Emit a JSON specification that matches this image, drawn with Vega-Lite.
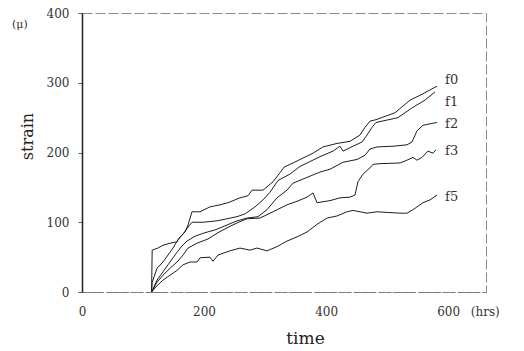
{
  "$schema": "https://vega.github.io/schema/vega-lite/v6.json",
  "autosize": "none",
  "width": 404,
  "height": 279,
  "padding": {"left": 82, "top": 13, "right": 38, "bottom": 59},
  "background": "white",
  "config": {
    "font": "DejaVu Serif",
    "view": {"stroke": "#8a8a8a", "strokeWidth": 1, "strokeDash": [10, 3]},
    "axis": {"grid": false, "labelFont": "DejaVu Serif", "titleFont": "DejaVu Serif", "titleFontWeight": "normal", "labelColor": "#333", "titleColor": "#222"}
  },
  "title": {"text": "(μ)", "anchor": "start", "frame": "group", "orient": "top", "offset": 0, "dx": -70, "dy": 29, "baseline": "middle", "fontSize": 11, "fontWeight": "normal", "font": "DejaVu Serif", "color": "#333"},
  "datasets": {
    "lines": [
      {"series": "f0", "t": 114, "v": 0}, {"series": "f0", "t": 115, "v": 60}, {"series": "f0", "t": 124.5, "v": 63}, {"series": "f0", "t": 132.7, "v": 67}, {"series": "f0", "t": 144.2, "v": 70}, {"series": "f0", "t": 155.7, "v": 72}, {"series": "f0", "t": 160.6, "v": 79}, {"series": "f0", "t": 168.8, "v": 86}, {"series": "f0", "t": 173.7, "v": 96}, {"series": "f0", "t": 180.2, "v": 115}, {"series": "f0", "t": 193.3, "v": 115}, {"series": "f0", "t": 209.7, "v": 122}, {"series": "f0", "t": 226.1, "v": 125}, {"series": "f0", "t": 239.2, "v": 128}, {"series": "f0", "t": 258.9, "v": 135}, {"series": "f0", "t": 272.0, "v": 138}, {"series": "f0", "t": 278.6, "v": 146}, {"series": "f0", "t": 296.6, "v": 146}, {"series": "f0", "t": 313.0, "v": 158}, {"series": "f0", "t": 324.4, "v": 171}, {"series": "f0", "t": 331.0, "v": 179}, {"series": "f0", "t": 345.7, "v": 185}, {"series": "f0", "t": 362.1, "v": 192}, {"series": "f0", "t": 378.5, "v": 199}, {"series": "f0", "t": 394.9, "v": 208}, {"series": "f0", "t": 417.8, "v": 213}, {"series": "f0", "t": 439.1, "v": 216}, {"series": "f0", "t": 455.5, "v": 225}, {"series": "f0", "t": 463.7, "v": 236}, {"series": "f0", "t": 471.9, "v": 245}, {"series": "f0", "t": 481.7, "v": 247}, {"series": "f0", "t": 512.9, "v": 257}, {"series": "f0", "t": 537.4, "v": 275}, {"series": "f0", "t": 553.8, "v": 282}, {"series": "f0", "t": 581.7, "v": 295},
      {"series": "f1", "t": 114, "v": 0}, {"series": "f1", "t": 115, "v": 14}, {"series": "f1", "t": 122.9, "v": 34}, {"series": "f1", "t": 132.7, "v": 43}, {"series": "f1", "t": 140.9, "v": 53}, {"series": "f1", "t": 149.1, "v": 63}, {"series": "f1", "t": 157.3, "v": 75}, {"series": "f1", "t": 165.5, "v": 83}, {"series": "f1", "t": 173.7, "v": 93}, {"series": "f1", "t": 180.2, "v": 100}, {"series": "f1", "t": 198.3, "v": 100}, {"series": "f1", "t": 221.2, "v": 102}, {"series": "f1", "t": 237.6, "v": 105}, {"series": "f1", "t": 254.0, "v": 108}, {"series": "f1", "t": 267.1, "v": 112}, {"series": "f1", "t": 283.5, "v": 122}, {"series": "f1", "t": 296.6, "v": 132}, {"series": "f1", "t": 308.0, "v": 143}, {"series": "f1", "t": 321.2, "v": 160}, {"series": "f1", "t": 340.8, "v": 169}, {"series": "f1", "t": 357.2, "v": 180}, {"series": "f1", "t": 373.6, "v": 187}, {"series": "f1", "t": 390.0, "v": 194}, {"series": "f1", "t": 411.3, "v": 202}, {"series": "f1", "t": 422.7, "v": 209}, {"series": "f1", "t": 427.7, "v": 202}, {"series": "f1", "t": 444.0, "v": 209}, {"series": "f1", "t": 458.8, "v": 215}, {"series": "f1", "t": 467.0, "v": 225}, {"series": "f1", "t": 475.2, "v": 236}, {"series": "f1", "t": 481.7, "v": 243}, {"series": "f1", "t": 517.8, "v": 250}, {"series": "f1", "t": 540.7, "v": 264}, {"series": "f1", "t": 562.0, "v": 275}, {"series": "f1", "t": 578.4, "v": 287},
      {"series": "f2", "t": 114, "v": 0}, {"series": "f2", "t": 122.9, "v": 17}, {"series": "f2", "t": 132.7, "v": 29}, {"series": "f2", "t": 140.9, "v": 39}, {"series": "f2", "t": 149.1, "v": 49}, {"series": "f2", "t": 155.7, "v": 57}, {"series": "f2", "t": 163.9, "v": 66}, {"series": "f2", "t": 172.0, "v": 73}, {"series": "f2", "t": 185.2, "v": 80}, {"series": "f2", "t": 201.5, "v": 85}, {"series": "f2", "t": 217.9, "v": 89}, {"series": "f2", "t": 237.6, "v": 96}, {"series": "f2", "t": 254.0, "v": 102}, {"series": "f2", "t": 270.4, "v": 106}, {"series": "f2", "t": 288.4, "v": 108}, {"series": "f2", "t": 303.1, "v": 118}, {"series": "f2", "t": 319.5, "v": 135}, {"series": "f2", "t": 335.9, "v": 146}, {"series": "f2", "t": 345.7, "v": 156}, {"series": "f2", "t": 362.1, "v": 162}, {"series": "f2", "t": 373.6, "v": 166}, {"series": "f2", "t": 390.0, "v": 172}, {"series": "f2", "t": 406.4, "v": 176}, {"series": "f2", "t": 427.7, "v": 186}, {"series": "f2", "t": 450.6, "v": 190}, {"series": "f2", "t": 463.7, "v": 196}, {"series": "f2", "t": 471.9, "v": 205}, {"series": "f2", "t": 483.4, "v": 208}, {"series": "f2", "t": 509.6, "v": 209}, {"series": "f2", "t": 532.5, "v": 211}, {"series": "f2", "t": 540.7, "v": 215}, {"series": "f2", "t": 548.9, "v": 231}, {"series": "f2", "t": 558.7, "v": 239}, {"series": "f2", "t": 575.1, "v": 242}, {"series": "f2", "t": 581.7, "v": 243},
      {"series": "f3", "t": 114, "v": 0}, {"series": "f3", "t": 122.9, "v": 14}, {"series": "f3", "t": 132.7, "v": 24}, {"series": "f3", "t": 144.2, "v": 34}, {"series": "f3", "t": 155.7, "v": 43}, {"series": "f3", "t": 165.5, "v": 53}, {"series": "f3", "t": 173.7, "v": 63}, {"series": "f3", "t": 188.4, "v": 70}, {"series": "f3", "t": 206.5, "v": 76}, {"series": "f3", "t": 222.8, "v": 85}, {"series": "f3", "t": 237.6, "v": 92}, {"series": "f3", "t": 254.0, "v": 99}, {"series": "f3", "t": 270.4, "v": 105}, {"series": "f3", "t": 291.7, "v": 106}, {"series": "f3", "t": 313.0, "v": 115}, {"series": "f3", "t": 335.9, "v": 125}, {"series": "f3", "t": 352.3, "v": 130}, {"series": "f3", "t": 368.7, "v": 136}, {"series": "f3", "t": 378.5, "v": 142}, {"series": "f3", "t": 385.1, "v": 128}, {"series": "f3", "t": 406.4, "v": 131}, {"series": "f3", "t": 422.7, "v": 135}, {"series": "f3", "t": 439.1, "v": 136}, {"series": "f3", "t": 447.3, "v": 139}, {"series": "f3", "t": 452.2, "v": 158}, {"series": "f3", "t": 460.4, "v": 169}, {"series": "f3", "t": 471.9, "v": 178}, {"series": "f3", "t": 476.8, "v": 183}, {"series": "f3", "t": 488.3, "v": 184}, {"series": "f3", "t": 521.1, "v": 185}, {"series": "f3", "t": 532.5, "v": 189}, {"series": "f3", "t": 542.4, "v": 193}, {"series": "f3", "t": 548.9, "v": 189}, {"series": "f3", "t": 557.1, "v": 193}, {"series": "f3", "t": 566.9, "v": 202}, {"series": "f3", "t": 575.1, "v": 199}, {"series": "f3", "t": 580.0, "v": 204},
      {"series": "f5", "t": 114, "v": 0}, {"series": "f5", "t": 122.9, "v": 9}, {"series": "f5", "t": 132.7, "v": 17}, {"series": "f5", "t": 144.2, "v": 24}, {"series": "f5", "t": 155.7, "v": 31}, {"series": "f5", "t": 165.5, "v": 39}, {"series": "f5", "t": 177.0, "v": 43}, {"series": "f5", "t": 188.4, "v": 43}, {"series": "f5", "t": 193.3, "v": 49}, {"series": "f5", "t": 209.7, "v": 50}, {"series": "f5", "t": 214.6, "v": 44}, {"series": "f5", "t": 222.8, "v": 53}, {"series": "f5", "t": 242.5, "v": 59}, {"series": "f5", "t": 258.9, "v": 63}, {"series": "f5", "t": 275.3, "v": 60}, {"series": "f5", "t": 286.7, "v": 63}, {"series": "f5", "t": 303.1, "v": 59}, {"series": "f5", "t": 319.5, "v": 65}, {"series": "f5", "t": 335.9, "v": 73}, {"series": "f5", "t": 352.3, "v": 79}, {"series": "f5", "t": 368.7, "v": 86}, {"series": "f5", "t": 385.1, "v": 97}, {"series": "f5", "t": 401.4, "v": 106}, {"series": "f5", "t": 417.8, "v": 109}, {"series": "f5", "t": 434.2, "v": 115}, {"series": "f5", "t": 444.0, "v": 117}, {"series": "f5", "t": 467.0, "v": 113}, {"series": "f5", "t": 483.4, "v": 115}, {"series": "f5", "t": 521.1, "v": 113}, {"series": "f5", "t": 532.5, "v": 113}, {"series": "f5", "t": 542.4, "v": 118}, {"series": "f5", "t": 558.7, "v": 128}, {"series": "f5", "t": 570.2, "v": 132}, {"series": "f5", "t": 581.7, "v": 139}
    ],
    "labels": [
      {"series": "f0", "t": 595, "v": 304},
      {"series": "f1", "t": 595, "v": 272},
      {"series": "f2", "t": 595, "v": 241},
      {"series": "f3", "t": 595, "v": 202},
      {"series": "f5", "t": 595, "v": 136}
    ]
  },
  "layer": [
    {
      "data": {"name": "lines"},
      "mark": {"type": "line", "color": "#1e1e1e", "strokeWidth": 1, "interpolate": "linear"},
      "encoding": {
        "x": {"field": "t", "type": "quantitative", "scale": {"domain": [0, 662], "nice": false, "zero": false},
          "axis": {"values": [0, 200, 400, 600, 660], "labelExpr": "datum.value == 660 ? '(hrs)' : datum.label", "labelFlush": false, "labelOverlap": false, "ticks": false, "labelPadding": 14, "labelFontSize": 12, "domainColor": "#777", "domainDash": [5, 3],
            "title": "time", "titleFontSize": 17, "titleFontWeight": "normal", "titleX": 223, "titleY": 46, "titleBaseline": "middle", "titleAnchor": "middle"}},
        "y": {"field": "v", "type": "quantitative", "scale": {"domain": [0, 400], "nice": false},
          "axis": {"values": [0, 100, 200, 300, 400], "tickSize": 4, "tickColor": "#555", "labelPadding": 9, "labelFontSize": 12, "domainColor": "#222", "domainWidth": 1.5,
            "title": "strain", "titleFontSize": 16, "titleFontWeight": "normal", "titleX": -55, "titleY": 123, "titleBaseline": "middle", "titleAngle": -90}},
        "detail": {"field": "series"}
      }
    },
    {
      "data": {"name": "labels"},
      "mark": {"type": "text", "align": "left", "baseline": "middle", "font": "DejaVu Serif", "fontSize": 13, "color": "#333"},
      "encoding": {
        "x": {"field": "t", "type": "quantitative"},
        "y": {"field": "v", "type": "quantitative"},
        "text": {"field": "series"}
      }
    }
  ]
}
